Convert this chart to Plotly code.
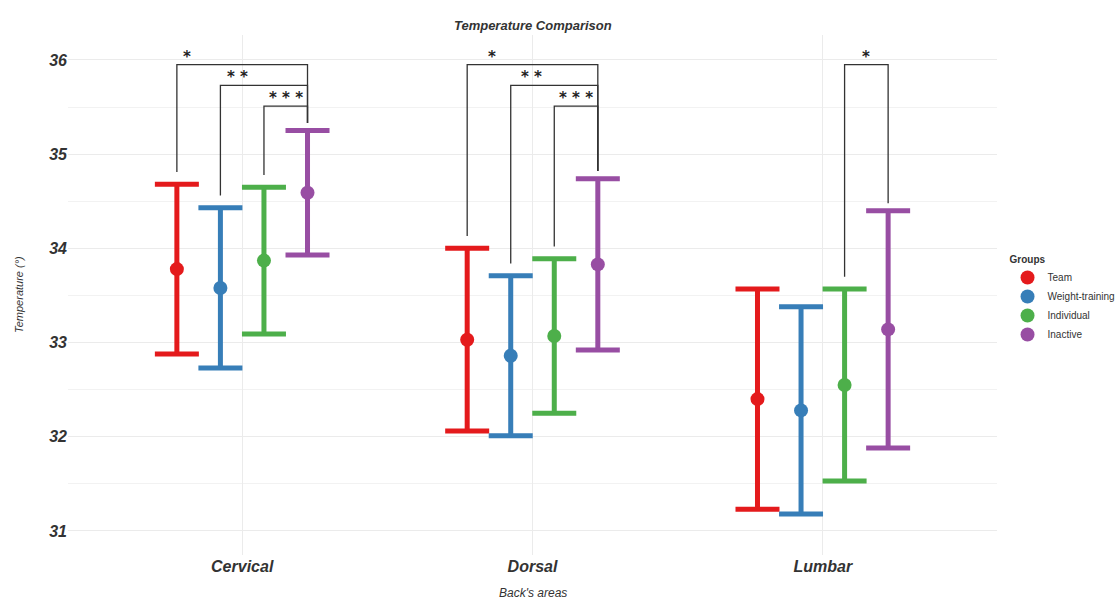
import plotly.graph_objects as go

# Back areas on the x axis
areas = ["Cervical", "Dorsal", "Lumbar"]
groups = ["Team", "Weight-training", "Individual", "Inactive"]
colors = ["#E41A1C", "#377EB8", "#4DAF4A", "#984EA3"]

# Mean temperature per group, one entry per back area
mean_team = [33.78, 33.03, 32.40]
mean_weight = [33.58, 32.86, 32.28]
mean_individual = [33.87, 33.07, 32.55]
mean_inactive = [34.59, 33.83, 33.14]

# Standard deviation per group, one entry per back area
sd_team = [0.90, 0.97, 1.17]
sd_weight = [0.85, 0.85, 1.10]
sd_individual = [0.78, 0.82, 1.02]
sd_inactive = [0.66, 0.91, 1.26]

means = [mean_team, mean_weight, mean_individual, mean_inactive]
sds = [sd_team, sd_weight, sd_individual, sd_inactive]

# Significance brackets: area, first group, second group, bracket height, label
sig_area = ["Cervical", "Cervical", "Cervical", "Dorsal", "Dorsal", "Dorsal", "Lumbar"]
sig_g1 = ["Team", "Weight-training", "Individual", "Team", "Weight-training", "Individual", "Individual"]
sig_g2 = ["Inactive", "Inactive", "Inactive", "Inactive", "Inactive", "Inactive", "Inactive"]
sig_y = [35.95, 35.73, 35.51, 35.95, 35.73, 35.51, 35.95]
sig_label = ["*", "**", "***", "*", "**", "***", "*"]

dodge = 0.15
offsets = {g: (i - 1.5) * dodge for i, g in enumerate(groups)}
area_pos = {a: i + 1 for i, a in enumerate(areas)}

fig = go.Figure()

for g, c, m, s in zip(groups, colors, means, sds):
    xs = [area_pos[a] + offsets[g] for a in areas]
    fig.add_trace(go.Scatter(
        x=xs, y=m, mode="markers", name=g,
        marker=dict(color=c, size=14, symbol="circle"),
        error_y=dict(type="data", array=s, visible=True,
                     color=c, thickness=5, width=22),
    ))

# upper end of each group's error bar, used to place bracket legs
upper = {}
for g, m, s in zip(groups, means, sds):
    for a, mv, sv in zip(areas, m, s):
        upper[(a, g)] = mv + sv

# horizontal label shift (in x units) relative to bracket centre
label_shift = [-0.19, -0.09, 0.0, -0.14, -0.08, 0.0, 0.0]

for a, g1, g2, yl, lab, dx in zip(sig_area, sig_g1, sig_g2, sig_y, sig_label, label_shift):
    x1 = area_pos[a] + offsets[g1]
    x2 = area_pos[a] + offsets[g2]
    y1 = upper[(a, g1)] + 0.13
    y2 = upper[(a, g2)] + 0.08
    fig.add_trace(go.Scatter(
        x=[x1, x1, x2, x2], y=[y1, yl, yl, y2], mode="lines",
        line=dict(color="#333333", width=1.3), showlegend=False,
        hoverinfo="skip",
    ))
    fig.add_annotation(
        x=(x1 + x2) / 2 + dx, y=yl, text="<b>" + " ".join(lab) + "</b>",
        showarrow=False, yanchor="bottom", yshift=-3,
        font=dict(family="DejaVu Sans", size=15, color="#222222"),
    )

axis_title_font = dict(family="Liberation Sans, Arial", size=12, color="#333333")

# axis titles placed as paper annotations so the panel keeps its size
fig.add_annotation(
    xref="paper", yref="paper", x=0.5, y=0, yshift=-29, yanchor="top",
    text="<i>Back's areas</i>", showarrow=False, font=axis_title_font,
)
fig.add_annotation(
    xref="paper", yref="paper", x=0, xshift=-41, xanchor="right", y=0.5,
    text="<i>Temperature (°)</i>", textangle=-90, showarrow=False,
    font=dict(family="Liberation Sans, Arial", size=11, color="#333333"),
)

fig.update_layout(
    width=1117, height=599,
    margin=dict(l=68, r=120, t=35, b=44),
    paper_bgcolor="white", plot_bgcolor="white",
    title=dict(text="<b><i>Temperature Comparison</i></b>", x=0.477, xanchor="center",
               y=0.958, yanchor="middle",
               font=dict(family="Liberation Sans, Arial", size=13, color="#333333")),
    legend=dict(
        title=dict(text="<b>Groups</b>", font=dict(size=10, color="#333333")),
        font=dict(family="Liberation Sans, Arial", size=10, color="#333333"),
        xref="container", yref="container",
        x=0.902, xanchor="left", y=0.5, yanchor="middle",
        tracegroupgap=0, itemsizing="trace", itemwidth=30,
    ),
    showlegend=True,
)

fig.update_xaxes(
    range=[0.4, 3.6], tickmode="array", tickvals=[1, 2, 3],
    ticktext=["<b><i>" + a + "</i></b>" for a in areas],
    tickfont=dict(family="Liberation Sans, Arial", size=16, color="#333333"),
    showgrid=True, gridcolor="#ebebeb", gridwidth=1, zeroline=False,
    showline=False, ticks="", ticklabelstandoff=0, automargin=False,
)

fig.update_yaxes(
    range=[30.745, 36.265], tickmode="array", tickvals=[31, 32, 33, 34, 35, 36],
    ticktext=["<b><i>%d</i></b>" % v for v in [31, 32, 33, 34, 35, 36]],
    tickfont=dict(family="Liberation Sans, Arial", size=16, color="#333333"),
    showgrid=True, gridcolor="#ebebeb", gridwidth=1, zeroline=False,
    showline=False, ticks="", automargin=False,
    minor=dict(tickmode="array", tickvals=[31.5, 32.5, 33.5, 34.5, 35.5],
               showgrid=True, gridcolor="#f2f2f2", gridwidth=1),
)

fig.write_html("out.html")
